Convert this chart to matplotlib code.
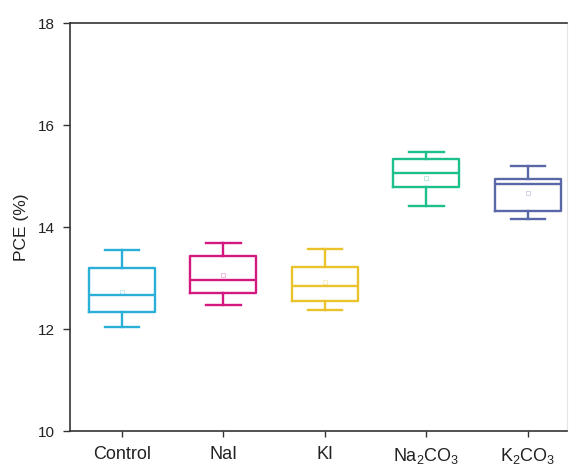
import matplotlib
matplotlib.use('Agg')
import matplotlib.pyplot as plt

plt.rcParams['font.family'] = ['Liberation Sans', 'DejaVu Sans']
plt.rcParams['mathtext.fontset'] = 'custom'
plt.rcParams['mathtext.rm'] = 'Liberation Sans'
plt.rcParams['mathtext.it'] = 'Liberation Sans:italic'
plt.rcParams['mathtext.default'] = 'regular'

# data: whisker low, q1, median, q3, whisker high, mean
groups = ['Control', 'NaI', 'KI', 'Na$_2$CO$_3$', 'K$_2$CO$_3$']
whislo = [12.04, 12.47, 12.37, 14.41, 14.16]
q1 = [12.33, 12.71, 12.55, 14.78, 14.31]
med = [12.67, 12.96, 12.84, 15.06, 14.85]
q3 = [13.20, 13.43, 13.21, 15.33, 14.94]
whishi = [13.55, 13.69, 13.57, 15.47, 15.20]
means = [12.73, 13.06, 12.93, 14.97, 14.67]
colors = ['#2AAFD9', '#D3187F', '#E9C22C', '#1DBF8C', '#5A68A8']

txtc = '#222222'
fig = plt.figure(figsize=(5.71, 4.66), dpi=100)
ax = fig.add_axes([0.1226, 0.0751, 0.870, 0.8755])

for i in range(len(groups)):
    st = [{'whislo': whislo[i], 'q1': q1[i], 'med': med[i], 'q3': q3[i],
           'whishi': whishi[i], 'mean': means[i], 'fliers': []}]
    c = colors[i]
    lp = dict(color=c, linewidth=1.7)
    ax.bxp(st, positions=[i + 1], widths=0.65, showmeans=True,
           boxprops=lp, whiskerprops=lp, capprops=lp, medianprops=lp,
           capwidths=0.34,
           meanprops=dict(marker='s', markersize=3, markerfacecolor='none',
                          markeredgecolor=c, markeredgewidth=0.4, alpha=0.5))

ax.set_xlim(0.488, 5.384)
ax.set_ylim(10, 18)
ax.set_yticks([10, 12, 14, 16, 18])
ax.set_xticks(range(1, len(groups) + 1))
ax.set_xticklabels(groups, fontsize=13, color=txtc)
ax.tick_params(axis='y', labelsize=11, length=5, width=1, color='#333333',
               pad=6, labelcolor=txtc)
ax.tick_params(axis='x', length=4, width=1, color='#333333', pad=7)
ax.set_ylabel('PCE (%)', fontsize=12.5, labelpad=6, color=txtc)

for s in ['left', 'bottom', 'top']:
    ax.spines[s].set_color('#333333')
    ax.spines[s].set_linewidth(1.2)
ax.spines['right'].set_color('#e6e6e6')
ax.spines['right'].set_linewidth(0.8)

fig.savefig('out.png', dpi=100)
